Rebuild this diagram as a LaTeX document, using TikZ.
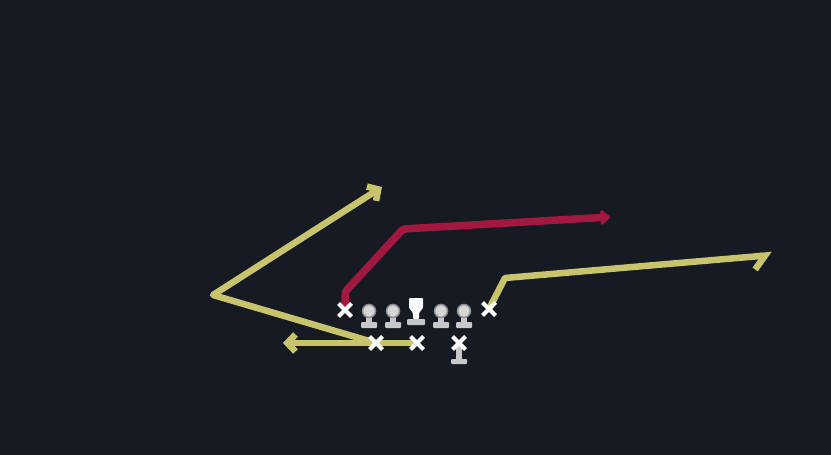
\documentclass[tikz,border=0pt]{standalone}
\usepackage{tikz}
\usetikzlibrary{arrows.meta,positioning,shapes.misc}
\definecolor{fieldbg}{RGB}{22,26,34}
\definecolor{routeyellow}{RGB}{200,196,110}
\definecolor{routered}{RGB}{163,24,62}
\definecolor{linegray}{RGB}{200,200,200}
\definecolor{headgray}{RGB}{214,214,214}
\definecolor{ringgray}{RGB}{140,140,140}
\pgfdeclarelayer{background}
\pgfdeclarelayer{routes}
\pgfsetlayers{background,routes,main}
\tikzset{
  player/.style={cross out,draw=white,line width=4pt,minimum size=9pt,inner sep=0pt},
  yroute/.style={draw=routeyellow,line width=6.5pt,line join=round,line cap=round},
  rroute/.style={draw=routered,line width=7.5pt,line join=round,line cap=round},
  lineman/.pic={
    \fill[linegray] (-3,0) rectangle (3,13);
    \fill[linegray,rounded corners=1pt] (-8,11) rectangle (8,17);
    \filldraw[fill=headgray,draw=ringgray,line width=1.5pt] (0,0) circle (6.5);
  },
  snapper/.pic={
    \fill[white,rounded corners=1pt] (-7,-12) -- (7,-12) -- (7,-2) -- (3,3) -- (3,9) -- (-3,9) -- (-3,3) -- (-7,-2) -- cycle;
    \fill[linegray,rounded corners=1pt] (-9,9) rectangle (9,15);
  },
  qbstand/.pic={
    \fill[linegray] (-3,0) rectangle (3,16);
    \fill[linegray,rounded corners=1pt] (-8,14) rectangle (8,19);
  },
}
\begin{document}
\begin{tikzpicture}[x=1pt,y=-1pt]
    \useasboundingbox (0,0) rectangle (831,455);
    \begin{pgfonlayer}{background}
    \fill[fieldbg] (0,0) rectangle (831,455); % Field
    \end{pgfonlayer}

    % Line
    \pic at (369,311) {lineman};
    \pic at (393,311) {lineman};
    \pic at (416,310) {snapper};
    \pic at (441,311) {lineman};
    \pic at (464,311) {lineman};
    \pic at (459,345) {qbstand};

    % Eligibles
    \node[player] (te) at (345,310) {};
    \node[player] (wr) at (489,309) {};
    \node[player] (rb) at (376,343) {};
    \node[player] (fb) at (417,343) {};
    \node[player] (qb) at (459,343) {};

    % Route breaks
    \coordinate (wheel) at (213,295);
    \coordinate (wheelend) at (382,187);
    \coordinate (flatend) at (283,343);
    \coordinate (postbend) at (345,292);
    \coordinate (postcut) at (403,229);
    \coordinate (postend) at (610,217);
    \coordinate (outbend) at (505,278);
    \coordinate (outend) at (772,255);

    \begin{pgfonlayer}{routes}
    \draw[yroute,-{Straight Barb[length=8pt,width=17pt]}] (rb.center) -- (wheel) -- (wheelend);
    \draw[yroute,-{Straight Barb[length=8pt,width=17pt]}] (fb.center) -- (flatend);
    \draw[rroute,rounded corners=3pt,-{Triangle[length=10pt,width=17pt,round]}] (te) -- (postbend) -- (postcut) -- (postend);
    \draw[yroute,-{Straight Barb[length=11pt,width=26pt,harpoon,swap]}] (wr.center) -- (outbend) -- (outend);
    \end{pgfonlayer}
\end{tikzpicture}
\end{document}
